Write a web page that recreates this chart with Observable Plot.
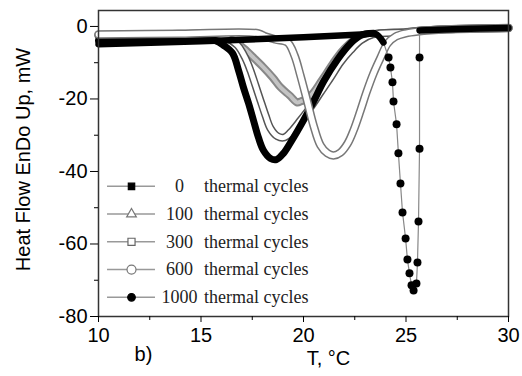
<!DOCTYPE html>
<html><head><meta charset="utf-8">
<script src="https://cdn.jsdelivr.net/npm/d3@7"></script>
<script src="https://cdn.jsdelivr.net/npm/@observablehq/plot@0.6"></script>
<style>body{margin:0;background:#fff}</style>
</head><body><div id="chart"></div>
<script>
// Series labels (thermal cycles)
const seriesLabels = ["0", "100", "300", "600", "1000"];

// [T (°C), Heat flow (mW)]
const cycles0 = [[10,-3.9],[12.5,-3.7],[15,-3.5],[15.7,-3.9],[16.1,-5.2],[16.54,-7.4],[16.83,-12.1],[17.07,-16.8],[17.32,-21.2],[17.56,-25.9],[17.8,-30.6],[18.05,-34.2],[18.39,-36.4],[18.68,-36.7],[19.02,-35.0],[19.37,-32.0],[20.0,-25.9],[20.49,-20.7],[20.98,-15.2],[21.66,-9.1],[22.29,-4.7],[22.78,-2.5],[23.41,-1.9]];
const cycles100 = [[10,-2.3],[13,-2.1],[15.5,-2.0],[16.0,-2.5],[16.6,-3.9],[17.1,-6.1],[17.6,-8.8],[18.05,-11.3],[18.5,-14.1],[18.88,-16.8],[19.32,-19.0],[19.7,-21.0],[19.85,-20.7],[20.2,-19.9],[20.49,-18.2],[20.83,-15.4],[21.22,-12.1],[21.61,-8.8],[22.0,-6.1],[22.44,-3.9],[23.02,-2.5],[23.66,-1.9],[25,-1.5],[26,-1.0],[30,-0.4]];
const cycles300 = [[10,-2.5],[13,-2.3],[15.8,-2.2],[16.2,-3.0],[16.78,-5.2],[17.17,-8.8],[17.41,-12.1],[17.66,-16.3],[17.9,-20.4],[18.15,-24.6],[18.39,-28.1],[18.73,-30.3],[19.07,-30.6],[19.37,-29.2],[19.85,-25.9],[20.34,-22.3],[20.83,-18.2],[21.32,-14.1],[21.8,-9.9],[22.29,-6.6],[22.78,-3.9],[23.37,-2.2],[25,-1.6],[26,-1.0],[30,-0.4]];
const cycles600 = [[10,-2.2],[14,-2.0],[17.8,-1.9],[18.15,-2.8],[18.63,-3.6],[19.22,-4.4],[19.56,-8.0],[19.85,-13.5],[20.2,-21.0],[20.49,-27.3],[20.83,-32.8],[21.17,-35.0],[21.46,-35.6],[21.8,-34.8],[22.15,-32.3],[22.44,-28.7],[22.78,-23.2],[23.07,-18.2],[23.41,-13.0],[23.76,-8.6],[24.1,-4.7],[24.49,-2.8],[24.98,-1.9],[25.56,-1.4],[27,-0.8],[30,-0.4]];
const cycles1000 = [[10,-4.9],[15,-4.1],[20,-3.0],[22.8,-2.2],[23.5,-2.0],[23.9,-4.4],[24.15,-8.55],[24.24,-11.3],[24.34,-15.4],[24.39,-20.7],[24.54,-27.0],[24.63,-35.0],[24.73,-43.3],[24.83,-51.3],[24.98,-58.5],[25.07,-64.3],[25.17,-68.1],[25.27,-71.4],[25.37,-72.8],[25.51,-70.9],[25.56,-65.1],[25.61,-53.8],[25.66,-33.7],[25.66,-8.55],[25.66,-1.1],[27.66,-0.7],[30,-0.4]];

const xTicks = [10, 15, 20, 25, 30];
const xMinor = [12.5, 17.5, 22.5, 27.5];
const yTicks = [0, -20, -40, -60, -80];
const yMinor = [-10, -30, -50, -70];

const rows = a => a.map(([t, h]) => ({t, h}));
const r0 = rows(cycles0), r100 = rows(cycles100), r300 = rows(cycles300), r600 = rows(cycles600), r1000 = rows(cycles1000);
// parts of the 1000-cycle curve drawn as dense markers (baseline) vs sparse markers (peak)
const r1000dense = r1000.map(d => ({...d, seg: d.t < 24.8 ? "a" : "b"})).filter(d => d.h > -6);
const r1000sparse = r1000.filter(d => d.h <= -6);

// legend
const legendRows = seriesLabels.map((s, i) => ({s, i, y: -44.1 - i * 7.65}));
const legendStyle = {
  "0": {symbol: "square", fill: "#000", stroke: "#000", r: 3.6},
  "100": {symbol: "triangle", fill: "#fff", stroke: "#777", r: 3.6},
  "300": {symbol: "square", fill: "#fff", stroke: "#666", r: 4},
  "600": {symbol: "circle", fill: "#fff", stroke: "#777", r: 4.5},
  "1000": {symbol: "circle", fill: "#000", stroke: "#000", r: 3.8}
};
const lx = {line1: 10.44, line2: 12.78, mark: 11.61, num: 13.95, txt: 20.24};

const tube = (data, outer, inner, wo, wi) => [
  Plot.line(data, {x: "t", y: "h", stroke: outer, strokeWidth: wo, curve: "catmull-rom"}),
  Plot.line(data, {x: "t", y: "h", stroke: inner, strokeWidth: wi, curve: "catmull-rom"})
];

const chart = Plot.plot({
  width: 522, height: 376,
  marginLeft: 98, marginRight: 14, marginTop: 10, marginBottom: 60,
  style: {fontFamily: "'Liberation Sans', Arial, sans-serif", fontSize: "20px", background: "#fff", color: "#000"},
  x: {domain: [10, 30], axis: null},
  y: {domain: [-80, 4.4], axis: null},
  marks: [
    ...tube(r100, "#888", "#c4c4c4", 8, 4),
    ...tube(r300, "#555", "#fff", 8, 5),
    Plot.line(r0, {x: "t", y: "h", stroke: "#000", strokeWidth: 7, curve: "catmull-rom"}),
    ...tube(r600, "#777", "#fff", 8.5, 5.5),
    Plot.line(r1000, {x: "t", y: "h", stroke: "#888", strokeWidth: 1.2}),
    Plot.line(r1000dense, {x: "t", y: "h", z: "seg", stroke: "#000", strokeWidth: 6.5, curve: "catmull-rom"}),
    Plot.dot(r1000sparse, {x: "t", y: "h", r: 4, fill: "#000"}),
    Plot.frame({stroke: "#333", strokeWidth: 1.5}),
    Plot.axisY(yTicks, {tickSize: 8, tickPadding: 3, tickFormat: d => String(d), fontSize: 20, label: null}),
    Plot.axisY(yMinor, {tickSize: 4, tickFormat: () => "", label: null}),
    Plot.axisX(xTicks, {tickSize: 6, tickPadding: 5, tickFormat: d => String(d), fontSize: 20, label: null}),
    Plot.axisX(xMinor, {tickSize: 4, tickFormat: () => "", label: null}),
    Plot.text(["Heat Flow EnDo Up, mW"], {frameAnchor: "left", textAnchor: "middle", dx: -75, dy: -4, rotate: -90, fontSize: 20}),
    Plot.text(["T, °C"], {frameAnchor: "bottom", textAnchor: "middle", dx: 25, dy: 48, fontSize: 20}),
    Plot.text(["b)"], {frameAnchor: "bottom-left", textAnchor: "middle", dx: 45, dy: 44, fontSize: 20}),
    Plot.ruleY(legendRows, {y: "y", x1: lx.line1, x2: lx.line2, stroke: "#999", strokeWidth: 1.5}),
    ...seriesLabels.map(s => Plot.dot(legendRows.filter(d => d.s === s), {x: () => lx.mark, y: "y", ...legendStyle[s], strokeWidth: 1.2})),
    Plot.text(legendRows, {x: () => lx.num, y: "y", text: "s", fontFamily: "'Liberation Serif', 'Times New Roman', serif", fontSize: 18, fill: "#222"}),
    Plot.text(legendRows, {x: () => lx.txt, y: "y", text: () => "thermal cycles", textAnchor: "end", fontFamily: "'Liberation Serif', 'Times New Roman', serif", fontSize: 18, fill: "#222"})
  ]
});
document.getElementById("chart").append(chart);
</script>
</body></html>
